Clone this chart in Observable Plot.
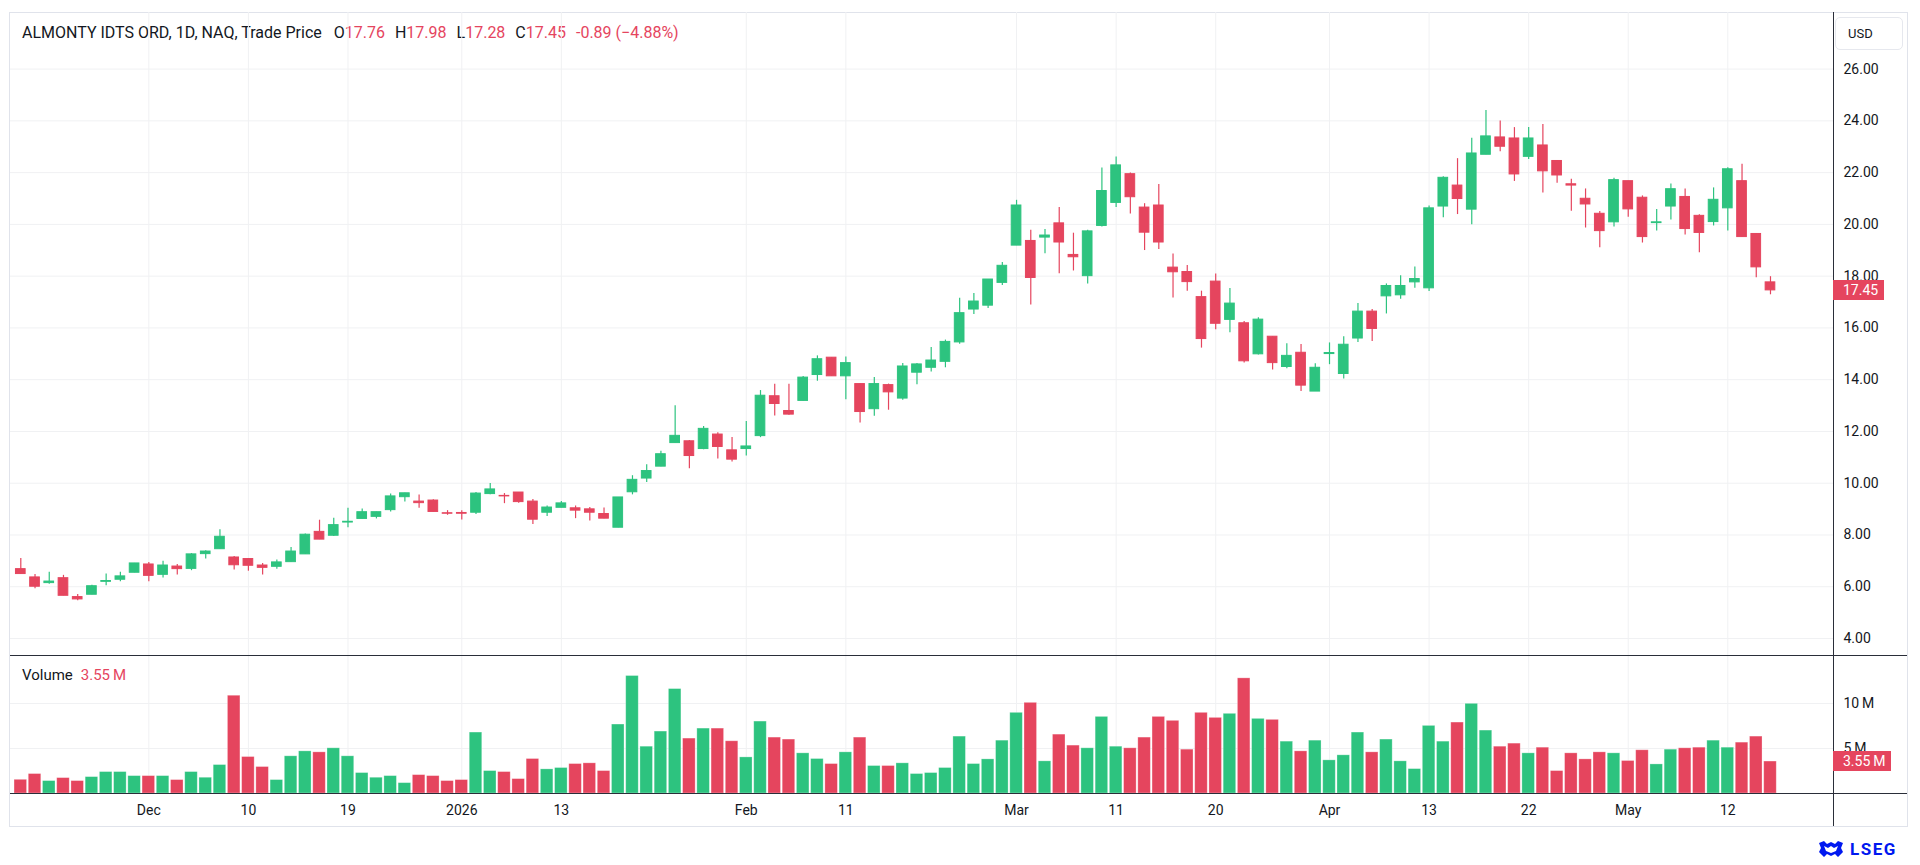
<!DOCTYPE html>
<html><head><meta charset="utf-8">
<script src="https://cdn.jsdelivr.net/npm/d3@7"></script>
<script src="https://cdn.jsdelivr.net/npm/@observablehq/plot@0.6"></script>
<style>
html,body{margin:0;padding:0;background:#fff;width:1920px;height:865px;overflow:hidden;font-family:Roboto,"Noto Sans",sans-serif;color:#131722;}
.abs{position:absolute;}
#frame{left:9px;top:12px;width:1899px;height:815px;border:1px solid #e0e3eb;box-sizing:border-box;}
#header{left:22px;top:24px;font-size:16px;line-height:18px;white-space:pre;}
#header .v{color:#e5455e;}
#header .g{margin-left:10px;}
#vol{left:22px;top:666px;font-size:15px;line-height:18px;white-space:pre;}
#vol .v{color:#e5455e;margin-left:8px;}
.hline{height:1px;background:#2a2e39;}
.vline{width:1px;background:#2a2e39;}
.tag{background:#e5455e;color:#fff;font-size:14px;line-height:20px;height:20px;padding-left:10px;box-sizing:border-box;}
#usd{left:1835px;top:17px;width:68px;height:33px;border:1px solid #e6e8ee;border-radius:5px;box-sizing:border-box;font-size:13px;line-height:31px;padding-left:12px;}
#lseg{left:1818px;top:838px;height:22px;display:flex;align-items:center;gap:6px;color:#0018f0;font-weight:bold;font-size:17px;letter-spacing:1.5px;}
svg{position:absolute;overflow:visible;}
</style>
</head><body>
<div id="frame" class="abs"></div>
<div id="header" class="abs"></div>
<div id="usd" class="abs">USD</div>
<div id="vol" class="abs"></div>
<div id="lseg" class="abs"><svg width="26" height="18" viewBox="0 0 26 18" style="position:static"><path d="M1 3 L6 1 L9 4 L13 2 L17 4 L20 1 L25 3 L23 8 L25 12 L20 17 L17 14 L13 16 L9 14 L6 17 L1 12 L3 8 Z" fill="#0018f0"/><path d="M6 6 L10 8 L13 6 L16 8 L20 6 L18 11 L13 13 L8 11 Z" fill="#fff"/></svg><span>LSEG</span></div>
<script>
// ---------- data ----------
const title = "ALMONTY IDTS ORD, 1D, NAQ, Trade Price";
const lastQuote = {O: "17.76", H: "17.98", L: "17.28", C: "17.45", chg: "-0.89 (\u22124.88%)"};
const holidays = ["2025-11-27", "2025-12-25", "2026-01-01", "2026-01-19", "2026-02-16", "2026-04-03"];
const firstDay = "2025-11-17", lastDay = "2026-05-15";

const opens = [6.68,6.36,6.14,6.33,5.60,5.69,6.19,6.27,6.54,6.86,
6.46,6.78,6.69,7.26,7.45,7.13,7.07,6.82,6.77,6.95,
7.25,8.12,7.97,8.48,8.62,8.70,8.96,9.46,9.29,9.33,
8.84,8.85,8.86,9.58,9.51,9.64,9.29,8.86,9.05,9.03,
8.99,8.81,8.28,9.65,10.18,10.64,11.55,11.62,11.32,11.88,
11.27,11.32,11.82,13.36,12.79,13.18,14.18,14.85,14.13,13.83,
12.86,13.79,13.27,14.27,14.46,14.69,15.44,16.71,16.86,17.74,
19.18,19.36,19.49,20.04,18.82,18.00,19.94,20.83,21.94,20.65,
20.73,18.33,18.16,17.19,17.79,16.31,16.18,14.98,15.66,14.49,
15.04,13.54,14.99,14.22,15.59,16.63,17.22,17.26,17.76,17.53,
20.69,21.50,20.57,22.69,23.36,23.32,22.61,23.05,22.45,21.55,
20.99,20.41,20.08,21.67,21.03,20.05,20.69,21.06,20.33,20.09,
20.62,21.67,19.63,17.76];
const highs = [7.09,6.47,6.56,6.44,5.70,6.06,6.49,6.56,6.90,6.94,
6.98,6.86,7.28,7.39,8.20,7.17,7.09,6.90,7.03,7.52,
8.04,8.57,8.65,9.03,9.00,8.88,9.58,9.61,9.54,9.36,
8.94,8.94,9.64,9.99,9.60,9.64,9.37,9.12,9.29,9.12,
9.06,9.04,9.45,10.29,10.71,11.23,12.99,11.65,12.19,11.95,
11.77,12.38,13.58,13.82,13.82,14.12,14.92,14.85,14.88,13.83,
14.08,13.83,14.63,14.63,15.24,15.53,17.15,17.33,17.87,18.53,
20.93,19.77,19.80,20.65,19.66,19.77,22.18,22.60,21.99,20.80,
21.54,18.86,18.41,17.42,18.08,17.52,16.25,16.39,15.66,15.39,
15.36,14.62,15.42,15.66,16.94,16.71,17.70,18.02,18.35,20.71,
21.84,22.54,23.33,24.40,23.99,23.74,23.74,23.86,22.47,21.74,
21.37,20.50,21.78,21.67,21.10,20.58,21.56,21.37,20.37,21.41,
22.19,22.32,19.65,17.98];
const lows = [6.47,5.92,6.10,5.65,5.46,5.69,6.04,6.19,6.54,6.19,
6.34,6.45,6.62,7.07,7.45,6.65,6.60,6.45,6.68,6.95,
7.25,7.82,7.94,8.28,8.62,8.62,8.89,9.27,9.03,8.89,
8.76,8.58,8.79,9.55,9.21,9.23,8.40,8.71,9.05,8.63,
8.54,8.63,8.28,9.55,10.03,10.64,11.55,10.56,11.29,10.94,
10.82,11.05,11.76,12.60,12.63,13.18,13.94,14.13,13.22,12.33,
12.59,12.82,13.21,13.80,14.30,14.46,15.37,16.52,16.75,17.64,
19.18,16.89,18.87,18.09,18.20,17.70,19.90,20.65,20.40,18.99,
19.03,17.16,17.42,15.22,15.93,15.81,14.64,14.95,14.37,14.42,
13.54,13.54,14.58,14.03,15.44,15.48,16.54,17.11,17.53,17.41,
20.26,20.38,19.99,22.69,22.81,21.66,22.51,21.21,21.59,20.51,
19.86,19.10,19.90,20.28,19.28,19.74,20.17,19.59,18.90,19.94,
19.74,19.49,17.94,17.28];
const closes = [6.49,6.00,6.20,5.65,5.51,6.02,6.22,6.40,6.90,6.42,
6.82,6.68,7.25,7.36,7.93,6.83,6.81,6.73,6.94,7.36,
8.01,7.82,8.38,8.51,8.88,8.88,9.49,9.61,9.23,8.89,
8.82,8.82,9.60,9.76,9.49,9.27,8.59,9.06,9.22,8.94,
8.86,8.63,9.45,10.13,10.47,11.12,11.83,11.05,12.10,11.40,
10.91,11.42,13.38,13.06,12.65,14.08,14.79,14.13,14.64,12.75,
13.83,13.51,14.51,14.59,14.74,15.46,16.57,17.02,17.87,18.40,
20.73,17.93,19.57,19.30,18.73,19.73,21.29,22.28,21.05,19.68,
19.30,18.15,17.77,15.57,16.16,16.94,14.71,16.32,14.64,14.92,
13.77,14.46,15.03,15.35,16.63,15.96,17.62,17.62,17.89,20.62,
21.80,20.98,22.74,23.40,23.00,21.93,23.32,22.05,21.89,21.50,
20.77,19.74,21.71,20.58,19.51,20.08,21.36,19.82,19.67,20.95,
22.13,19.51,18.34,17.45];
const volumes = [1.52,2.16,1.38,1.71,1.38,1.82,2.38,2.38,1.93,1.93,
1.93,1.49,2.38,1.75,3.16,10.86,4.05,2.94,1.49,4.13,
4.68,4.57,5.02,4.13,2.27,1.75,1.93,1.15,2.04,1.93,
1.38,1.49,6.77,2.49,2.38,1.60,3.83,2.68,2.83,3.27,
3.35,2.49,7.66,13.05,5.20,6.88,11.60,6.10,7.21,7.21,
5.80,4.01,7.99,6.21,5.99,4.46,3.83,3.27,4.57,6.21,
3.05,3.05,3.35,2.16,2.27,2.83,6.32,3.27,3.79,5.87,
8.96,10.07,3.57,6.54,5.32,5.02,8.51,5.20,5.02,6.21,
8.51,8.07,4.87,8.96,8.40,8.85,12.79,8.29,8.18,5.76,
4.68,5.87,3.68,4.24,6.77,4.57,5.99,3.57,2.71,7.51,
5.76,7.88,9.96,6.99,5.20,5.54,4.46,5.09,2.49,4.46,
3.79,4.57,4.46,3.61,4.80,3.23,4.87,5.02,5.09,5.87,
5.09,5.65,6.32,3.55];

const priceTicks = [4,6,8,10,12,14,16,18,20,22,24,26];
const volumeTicks = [5,10];
const tickDates = ["2025-12-01","2025-12-10","2025-12-19","2026-01-02","2026-01-13","2026-02-02","2026-02-11","2026-03-02","2026-03-11","2026-03-20","2026-04-01","2026-04-13","2026-04-22","2026-05-01","2026-05-12"];
const tickLabels = ["Dec","10","19","2026","13","Feb","11","Mar","11","20","Apr","13","22","May","12"];
const boldLabels = ["2026"];
const lastPrice = 17.45, lastVolume = 3.55;

// ---------- calendar of trading days ----------
const dates = [];
for (let d = new Date(firstDay + "T12:00:00Z"); d <= new Date(lastDay + "T12:00:00Z"); d.setUTCDate(d.getUTCDate() + 1)) {
  const s = d.toISOString().slice(0, 10), wd = d.getUTCDay();
  if (wd !== 0 && wd !== 6 && !holidays.includes(s)) dates.push(s);
}
const GREEN = "#2dc37f", RED = "#e5455e", GRID = "#f0f1f3", INK = "#131722";
const bars = dates.map((date, i) => ({
  i, date, open: opens[i], high: highs[i], low: lows[i], close: closes[i], volume: volumes[i],
  color: closes[i] >= opens[i] ? GREEN : RED
}));
const ticks = tickDates.map((t, k) => ({i: dates.indexOf(t), label: tickLabels[k], bold: boldLabels.includes(tickLabels[k])}));
const tickIdx = ticks.map(t => t.i);

// ---------- layout ----------
const W = 1920, ML = 10, MR = 87;
const xDomain = [-0.724, 127.43];
const fontFamily = "Roboto, 'Noto Sans', sans-serif";

// header
const hdr = document.getElementById("header");
hdr.innerHTML = `<span>${title}</span>` +
  ["O","H","L","C"].map((k, j) => `<span class="g"${j===0?' style="margin-left:12px"':''}>${k}<span class="v">${lastQuote[k]}</span></span>`).join("") +
  `<span class="g v">${lastQuote.chg}</span>`;
document.getElementById("vol").innerHTML = `Volume<span class="v">${lastVolume.toFixed(2)}\u2009M</span>`;

// price pane
const priceTop = 12, priceH = 643;
const price = Plot.plot({
  width: W, height: priceH,
  marginLeft: ML, marginRight: MR, marginTop: 0, marginBottom: 0,
  style: {fontFamily, fontSize: "14px", color: INK, background: "transparent"},
  x: {type: "linear", domain: xDomain, axis: null},
  y: {domain: [3.343, 28.187], axis: null},
  color: {type: "identity"},
  marks: [
    Plot.ruleY(priceTicks, {stroke: GRID, strokeWidth: 1}),
    Plot.ruleX(tickIdx, {stroke: GRID, strokeWidth: 1}),
    Plot.ruleX(bars, {x: "i", y1: "low", y2: "high", stroke: "color", strokeWidth: 1.2}),
    Plot.rect(bars, {x1: d => d.i - 0.34, x2: d => d.i + 0.34, y1: "open", y2: "close", fill: "color", stroke: "color", strokeWidth: 1}),
    Plot.axisY(priceTicks, {anchor: "right", tickSize: 0, tickPadding: 10, tickFormat: d => d.toFixed(2), label: null, fontSize: 14, fill: INK})
  ]
});
price.style.left = "0px"; price.style.top = priceTop + "px";
document.body.appendChild(price);

// volume pane
const volTop = 655, volPaneH = 138, volBottom = 33;
const volume = Plot.plot({
  width: W, height: volPaneH + volBottom,
  marginLeft: ML, marginRight: MR, marginTop: 0, marginBottom: volBottom,
  style: {fontFamily, fontSize: "14px", color: INK, background: "transparent"},
  x: {type: "linear", domain: xDomain, axis: null},
  y: {domain: [0, 15.33], axis: null},
  color: {type: "identity"},
  marks: [
    Plot.ruleY(volumeTicks, {stroke: GRID, strokeWidth: 1}),
    Plot.ruleX(tickIdx, {y1: 0, y2: 15.33, stroke: GRID, strokeWidth: 1}),
    Plot.rect(bars, {x1: d => d.i - 0.44, x2: d => d.i + 0.44, y1: 0, y2: "volume", fill: "color", stroke: "#ffffff", strokeOpacity: 0.35, strokeWidth: 0.8}),
    Plot.axisY(volumeTicks, {anchor: "right", tickSize: 0, tickPadding: 10, tickFormat: d => d + "\u2009M", label: null, fontSize: 14, fill: INK}),
    Plot.text(ticks, {x: "i", y: 0, dy: 17, text: "label", fontSize: 14, fill: INK, fontWeight: d => d.bold ? "bold" : "normal"})
  ]
});
volume.style.left = "0px"; volume.style.top = volTop + "px";
document.body.appendChild(volume);

// separators and axis line
function line(cls, l, t, w, h) { const e = document.createElement("div"); e.className = "abs " + cls; Object.assign(e.style, {left: l + "px", top: t + "px", width: w + "px", height: h + "px"}); document.body.appendChild(e); }
line("hline", 10, volTop, 1897, 1);
line("hline", 10, volTop + volPaneH, 1897, 1);
line("vline", W - MR, 12, 1, 814);

// last-value tags positioned with the library scales
function tag(text, y, w) {
  const e = document.createElement("div"); e.className = "abs tag"; e.textContent = text;
  Object.assign(e.style, {left: (W - MR) + "px", top: (y - 10) + "px", width: w + "px"});
  document.body.appendChild(e);
}
tag(lastPrice.toFixed(2), priceTop + price.scale("y").apply(lastPrice), 51);
tag(lastVolume.toFixed(2) + "\u2009M", volTop + volume.scale("y").apply(lastVolume), 58);
</script>
</body></html>
